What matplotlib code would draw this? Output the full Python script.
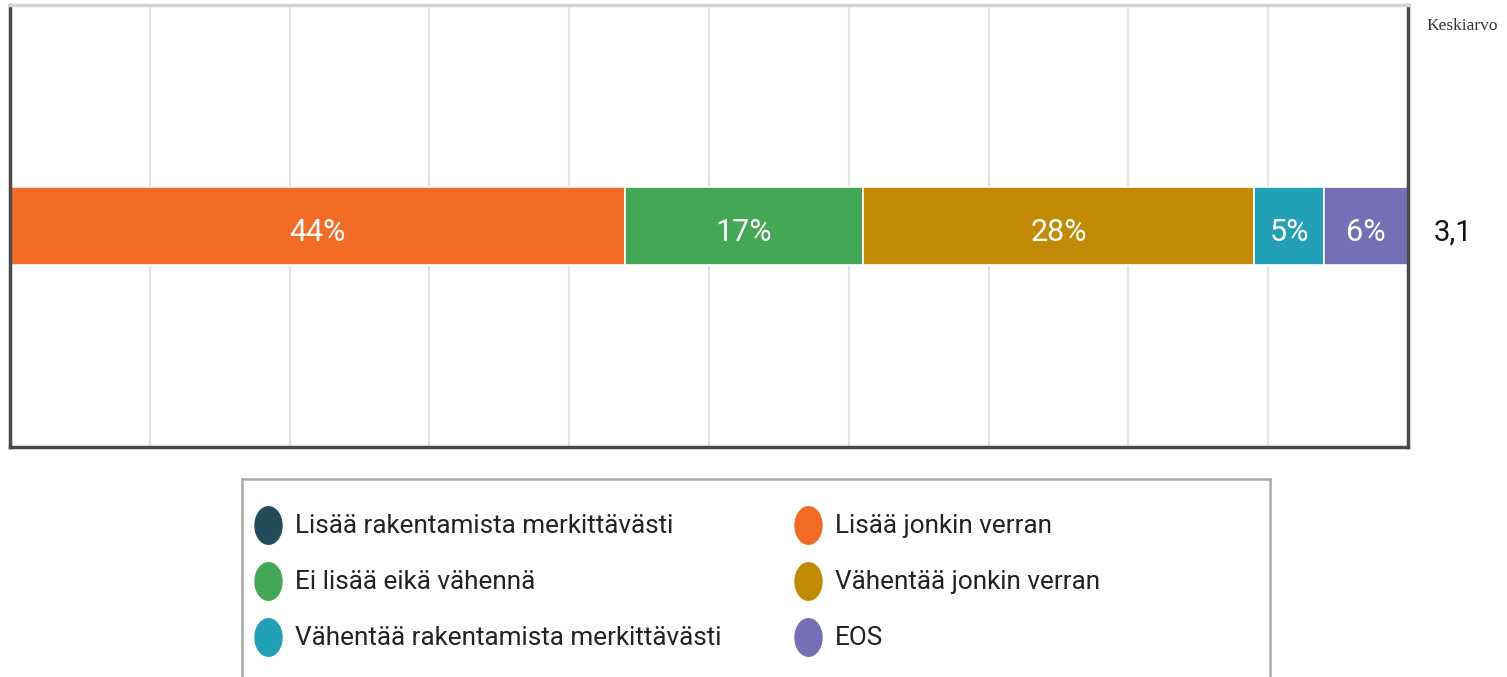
import matplotlib
matplotlib.use("Agg")
import matplotlib.pyplot as plt
from matplotlib.path import Path
from matplotlib.markers import MarkerStyle
import numpy as np

categories = ["Lisää rakentamista merkittävästi", "Lisää jonkin verran",
              "Ei lisää eikä vähennä", "Vähentää jonkin verran",
              "Vähentää rakentamista merkittävästi", "EOS"]
values = [0, 44, 17, 28, 5, 6]
colors = ["#234b5a", "#f26b24", "#43a755", "#c08a04", "#22a0b5", "#7570b5"]
mean_label = "3,1"
mean_title = "Keskiarvo"

FONT = ["Roboto", "Liberation Sans", "DejaVu Sans"]
plt.rcParams['font.family'] = FONT

W, H = 1507, 677
fig = plt.figure(figsize=(W / 100, H / 100), dpi=100)
fig.patch.set_facecolor("white")

def fx(px):
    return px / W

def fy(py):
    return 1 - py / H

ax = fig.add_axes([fx(10), fy(447), fx(1408) - fx(10), fy(5) - fy(447)])
ax.set_xlim(0, 100)
ax.set_ylim(-0.5, 0.5)
for x in range(10, 100, 10):
    ax.axvline(x, color="#e4e4e4", lw=1.5, zorder=0)

left = 0
for v, c in zip(values, colors):
    if v > 0:
        ax.barh(0, v, left=left, height=0.176, color=c, edgecolor="white",
                linewidth=1.2, zorder=2)
        ax.text(left + v / 2, -0.014, f"{v}%", color="white", ha="center",
                va="center", fontsize=22, zorder=3)
    left += v

ax.set_xticks([])
ax.set_yticks([])
for s in ["left", "right", "bottom"]:
    ax.spines[s].set_color("#4a4a4a")
    ax.spines[s].set_linewidth(2.5)
ax.spines["top"].set_color("#d4d4d4")
ax.spines["top"].set_linewidth(2.5)

# mean column
ax.text(1.032, 0.486, mean_label, transform=ax.transAxes, ha="center",
        va="center", fontsize=21, color="#111111")
fig.text(fx(1462), fy(26), mean_title, ha="center", va="center",
         fontsize=12.5, color="#333333", family=["Liberation Serif", "DejaVu Serif"])

# legend box
lx0, lx1, ly0, ly1 = 242, 1270, 479, 690
lax = fig.add_axes([fx(lx0), fy(ly1), fx(lx1) - fx(lx0), fy(ly0) - fy(ly1)])
lax.set_xlim(lx0, lx1)
lax.set_ylim(ly1, ly0)
lax.set_xticks([])
lax.set_yticks([])
for s in lax.spines.values():
    s.set_color("#aaaaaa")
    s.set_linewidth(1.8)

t = np.linspace(0, 2 * np.pi, 60)
ell = Path(np.column_stack([0.36 * np.cos(t), 0.5 * np.sin(t)]), closed=True)
marker = MarkerStyle(ell)

order = [0, 2, 4, 1, 3, 5]
col_x = [268, 808]
row_y = [525, 581, 637]
for i, idx in enumerate(order):
    cx = col_x[i // 3]
    cy = row_y[i % 3]
    lax.plot([cx], [cy], marker=marker, markersize=27, color=colors[idx],
             linestyle="none")
    lax.text(cx + 27, cy + 1, categories[idx], ha="left", va="center",
             fontsize=18.8, color="#222222")

fig.savefig("out.png", dpi=100, facecolor="white")
